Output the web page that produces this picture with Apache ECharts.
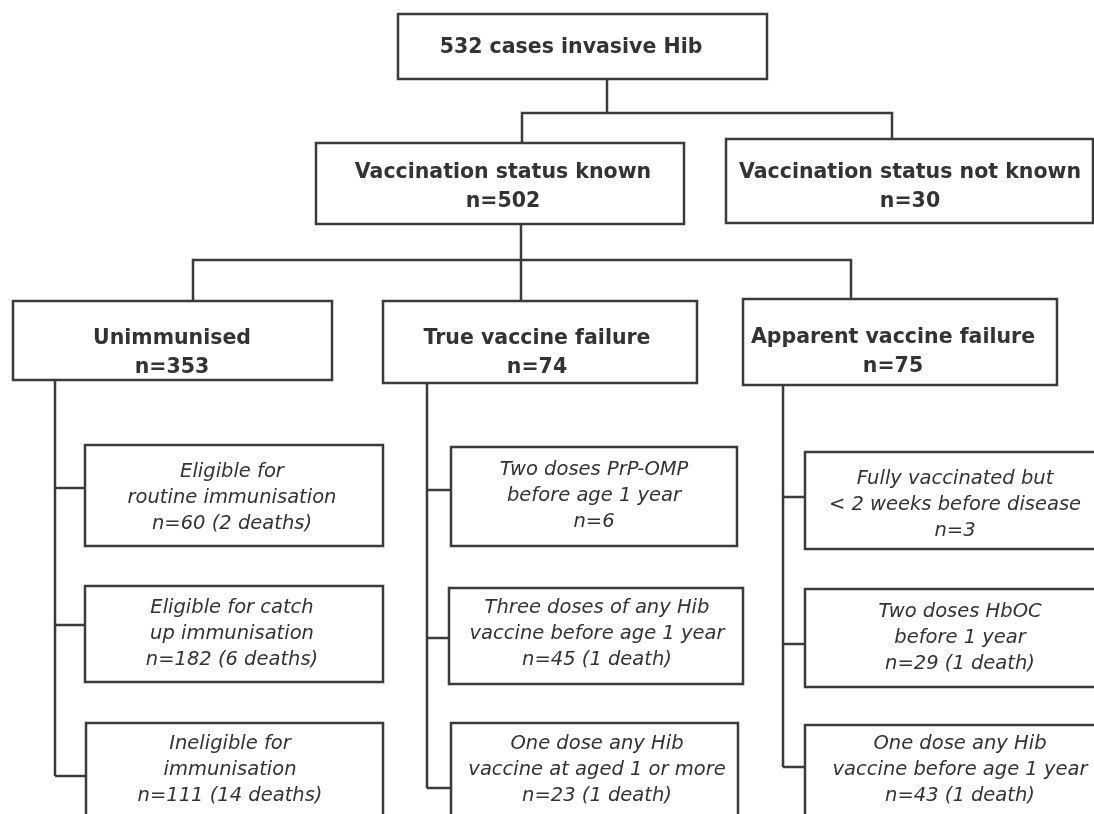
<!DOCTYPE html>
<html>
<head>
<meta charset="utf-8">
<script src="https://cdn.jsdelivr.net/npm/echarts@6/dist/echarts.min.js"></script>
<style>
  html, body { margin: 0; padding: 0; background: #ffffff; }
  #chart { width: 1094px; height: 814px; }
</style>
</head>
<body>
<div id="chart"></div>
<script>
// node titles (line breaks as in the figure)
const titles = [
  "cases invasive Hib",
  "Vaccination status known",
  "Vaccination status not known",
  "Unimmunised",
  "True vaccine failure",
  "Apparent vaccine failure",
  "Eligible for\nroutine immunisation",
  "Eligible for catch\nup immunisation",
  "Ineligible for\nimmunisation",
  "Two doses PrP-OMP\nbefore age 1 year",
  "Three doses of any Hib\nvaccine before age 1 year",
  "One dose any Hib\nvaccine at aged 1 or more",
  "Fully vaccinated but\n< 2 weeks before disease",
  "Two doses HbOC\nbefore 1 year",
  "One dose any Hib\nvaccine before age 1 year"
];
const cases = [532, 502, 30, 353, 74, 75, 60, 182, 111, 6, 45, 23, 3, 29, 43];
const deaths = [null, null, null, null, null, null, 2, 6, 14, null, 1, 1, null, 1, 1];

// layout in page units: box [x0, y0, x1, y1], text centre [x, y]
const boxRects = [
  [398, 14, 767, 79],
  [316, 143, 684, 224],
  [726, 139, 1093, 223],
  [13, 301, 332, 380],
  [383, 301, 697, 383],
  [743, 299, 1057, 385],
  [85, 445, 383, 546],
  [85, 586, 383, 682],
  [86, 723, 383, 840],
  [451, 447, 737, 546],
  [449, 588, 743, 684],
  [451, 723, 738, 840],
  [805, 452, 1110, 549],
  [805, 589, 1110, 687],
  [805, 725, 1110, 840]
];
const textAnchors = [
  [571, 48], [503, 187], [910, 187], [172, 353], [537, 353], [893, 352],
  [232, 498], [232, 634], [230, 770],
  [594, 496], [597, 634], [597, 770],
  [955, 505], [960, 638], [960, 770]
];
const connectorPaths = [
  [[607, 79], [607, 113]],
  [[522, 143], [522, 113], [892, 113], [892, 139]],
  [[521, 224], [521, 301]],
  [[193, 301], [193, 260], [851, 260], [851, 299]],
  [[55, 380], [55, 776]],
  [[55, 488], [85, 488]], [[55, 625], [85, 625]], [[55, 776], [86, 776]],
  [[427, 383], [427, 788]],
  [[427, 490], [451, 490]], [[427, 638], [449, 638]], [[427, 788], [451, 788]],
  [[783, 385], [783, 767]],
  [[783, 497], [805, 497]], [[783, 644], [805, 644]], [[783, 767], [805, 767]]
];

const lineColor = "#3b3b3b";
const textColor = "#333333";

const labelOf = i => {
  if (i === 0) return cases[0] + " " + titles[0];
  let n = "n=" + cases[i];
  if (deaths[i] != null) n += " (" + deaths[i] + (deaths[i] === 1 ? " death)" : " deaths)");
  return titles[i] + "\n" + n;
};

const boxData = boxRects.map((r, i) => [r[0], r[1], r[2], r[3], i, textAnchors[i][0], textAnchors[i][1]]);

const myChart = echarts.init(document.getElementById("chart"));
const option = {
  animation: false,
  backgroundColor: "#ffffff",
  grid: { left: 0, right: 0, top: 0, bottom: 0 },
  xAxis: { type: "value", min: 0, max: 1094, show: false },
  yAxis: { type: "value", min: 0, max: 814, inverse: true, show: false },
  series: [
    {
      type: "lines",
      coordinateSystem: "cartesian2d",
      polyline: true,
      silent: true,
      z: 1,
      lineStyle: { color: lineColor, width: 2.5, opacity: 1 },
      data: connectorPaths.map(p => ({ coords: p }))
    },
    {
      type: "custom",
      z: 2,
      clip: false,
      silent: true,
      encode: { x: [0, 2], y: [1, 3] },
      data: boxData,
      renderItem: (params, api) => {
        const i = api.value(4);
        const p0 = api.coord([api.value(0), api.value(1)]);
        const p1 = api.coord([api.value(2), api.value(3)]);
        const t = api.coord([api.value(5), api.value(6)]);
        const sub = i >= 6;
        return {
          type: "group",
          children: [
            {
              type: "rect",
              shape: { x: p0[0], y: p0[1], width: p1[0] - p0[0], height: p1[1] - p0[1] },
              style: { fill: "#ffffff", stroke: lineColor, lineWidth: 2.5 }
            },
            {
              type: "text",
              style: {
                text: labelOf(i),
                x: t[0],
                y: t[1],
                align: "center",
                verticalAlign: "middle",
                fill: textColor,
                font: sub ? 'italic 19.5px "DejaVu Sans"' : 'bold 20.5px "DejaVu Sans"',
                lineHeight: sub ? 26 : 29
              }
            }
          ]
        };
      }
    }
  ]
};
myChart.setOption(option);
</script>
</body>
</html>
